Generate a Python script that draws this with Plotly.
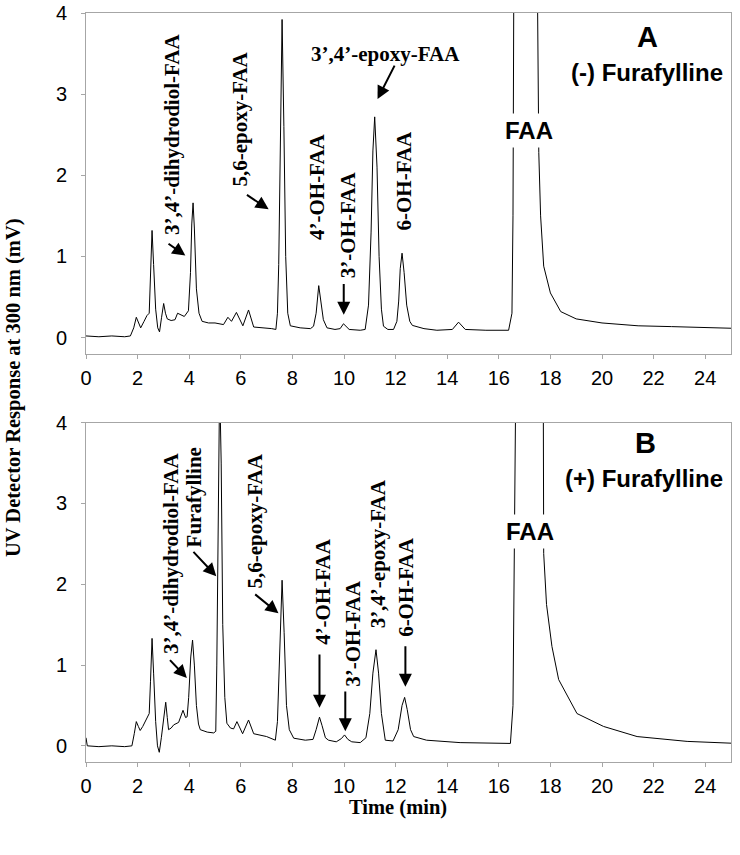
import plotly.graph_objects as go

# ---------------- data ----------------
# Panel A: (-) Furafylline
time_a = [0.0, 0.5, 1.0, 1.5, 1.72, 1.85, 1.95, 2.04, 2.12, 2.25, 2.36, 2.45, 2.5, 2.56, 2.62, 2.7, 2.78, 2.85,
          2.93, 3.01, 3.08, 3.15, 3.3, 3.45, 3.55, 3.68, 3.81, 3.97, 4.05, 4.1, 4.15, 4.2, 4.28, 4.38, 4.5,
          4.75, 5.0, 5.33, 5.5, 5.64, 5.83, 6.08, 6.3, 6.5, 6.88, 7.2, 7.36, 7.42, 7.47, 7.53, 7.6, 7.67, 7.74,
          7.82, 7.92, 8.3, 8.7, 8.82, 8.92, 9.02, 9.1, 9.2, 9.34, 9.65, 9.85, 9.98, 10.2, 10.63, 10.82, 10.95,
          11.05, 11.12, 11.19, 11.28, 11.36, 11.45, 11.53, 11.7, 11.92, 12.05, 12.12, 12.18, 12.25, 12.33,
          12.43, 12.55, 12.65, 13.1, 13.6, 14.2, 14.44, 14.7, 15.5, 16.38, 16.51, 16.55, 16.58, 16.62, 17.05,
          17.46, 17.5, 17.55, 17.62, 17.74, 18.0, 18.4, 19.0, 20.0, 21.4, 22.7, 24.0, 25.0]
resp_a = [0.02, 0.01, 0.02, 0.01, 0.02, 0.12, 0.25, 0.17, 0.12, 0.2, 0.27, 0.3, 0.7, 1.32, 0.9, 0.35, 0.12, 0.07,
          0.25, 0.42, 0.3, 0.23, 0.21, 0.22, 0.3, 0.28, 0.26, 0.33, 0.8, 1.4, 1.66, 1.35, 0.6, 0.3, 0.2,
          0.18, 0.18, 0.16, 0.25, 0.2, 0.31, 0.145, 0.34, 0.13, 0.124, 0.11, 0.1, 0.3, 0.9, 2.5, 3.92, 2.6, 1.0,
          0.3, 0.145, 0.12, 0.11, 0.14, 0.3, 0.64, 0.45, 0.22, 0.12, 0.1, 0.11, 0.17, 0.1, 0.09, 0.1, 0.4,
          1.3, 2.3, 2.72, 2.1, 1.0, 0.35, 0.14, 0.1, 0.1, 0.2, 0.45, 0.85, 1.04, 0.8,
          0.4, 0.2, 0.15, 0.11, 0.09, 0.1, 0.19, 0.1, 0.09, 0.09, 0.3, 1.5, 4.2, 10.0, 14.0,
          10.0, 4.2, 2.28, 1.5, 0.88, 0.55, 0.32, 0.23, 0.18, 0.145, 0.135, 0.12, 0.115]

# Panel B: (+) Furafylline
time_b = [0.0, 0.05, 0.5, 1.0, 1.5, 1.78, 1.87, 1.95, 2.03, 2.1, 2.2, 2.36, 2.45, 2.5, 2.56, 2.62, 2.7, 2.77,
          2.84, 2.92, 3.0, 3.09, 3.15, 3.2, 3.3, 3.4, 3.59, 3.68, 3.76, 3.86, 3.92, 3.98, 4.06, 4.13, 4.2,
          4.28, 4.36, 4.43, 4.7, 4.95, 5.03, 5.07, 5.12, 5.18, 5.24, 5.3, 5.38, 5.46, 5.6, 5.72, 5.85, 6.07,
          6.3, 6.5, 7.0, 7.34, 7.42, 7.5, 7.6, 7.68, 7.77, 7.88, 8.05, 8.5, 8.8, 8.92, 9.05, 9.15, 9.28, 9.4,
          9.7, 9.9, 10.02, 10.15, 10.3, 10.63, 10.85, 11.0, 11.12, 11.24, 11.34, 11.45, 11.6, 11.9, 12.1,
          12.25, 12.35, 12.45, 12.58, 12.7, 13.2, 14.5, 16.45, 16.55, 16.6, 16.65, 16.7, 17.2, 17.68, 17.72,
          17.74, 17.85, 18.06, 18.32, 19.03, 20.06, 21.36, 23.3, 25.0]
resp_b = [0.1, 0.0, -0.01, 0.0, -0.01, 0.0, 0.15, 0.3, 0.24, 0.19, 0.24, 0.34, 0.4, 0.8, 1.33, 0.9, 0.3, 0.0,
          -0.08, 0.1, 0.35, 0.54, 0.35, 0.2, 0.22, 0.26, 0.29, 0.38, 0.44, 0.35, 0.36, 0.6, 1.1, 1.31, 1.0,
          0.5, 0.27, 0.2, 0.17, 0.16, 0.18, 1.0, 3.0, 4.5, 3.5, 1.5, 0.6, 0.28, 0.22, 0.21, 0.3, 0.15,
          0.32, 0.15, 0.115, 0.07, 0.3, 1.2, 2.05, 1.4, 0.5, 0.2, 0.095, 0.07, 0.08, 0.2, 0.355, 0.25, 0.1, 0.07,
          0.05, 0.09, 0.135, 0.08, 0.05, 0.04, 0.1, 0.4, 0.9, 1.19, 0.9, 0.4, 0.07, 0.06, 0.2,
          0.5, 0.6, 0.45, 0.2, 0.115, 0.07, 0.04, 0.03, 0.5, 2.0, 4.2, 10.0, 14.0, 10.0, 4.2,
          2.38, 1.75, 1.23, 0.82, 0.40, 0.24, 0.115, 0.055, 0.033]

x_ticks = [0, 2, 4, 6, 8, 10, 12, 14, 16, 18, 20, 22, 24]
y_ticks = [0, 1, 2, 3, 4]

# ---------------- figure ----------------
fig = go.Figure()
fig.add_trace(go.Scatter(x=time_a, y=resp_a, mode="lines", line=dict(color="black", width=1),
                         xaxis="x", yaxis="y", showlegend=False, hoverinfo="skip"))
fig.add_trace(go.Scatter(x=time_b, y=resp_b, mode="lines", line=dict(color="black", width=1),
                         xaxis="x2", yaxis="y2", showlegend=False, hoverinfo="skip"))

TICKFONT = dict(family="Liberation Sans, Arial, sans-serif", size=20, color="black")
axis_common = dict(showgrid=False, zeroline=False, showline=True, mirror=True, linecolor="#a6a6a6",
                   linewidth=1, ticks="outside", ticklen=4, tickcolor="#a6a6a6", tickfont=TICKFONT,
                   automargin=False, ticklabeloverflow="allow")

fig.update_layout(
    width=740, height=855, margin=dict(l=86, r=9, t=13, b=93, autoexpand=False),
    paper_bgcolor="white", plot_bgcolor="white",
    xaxis=dict(domain=[0, 1], range=[0, 25], tickvals=x_ticks, anchor="y", ticklabelstandoff=2, **axis_common),
    yaxis=dict(domain=[0.545, 1.0], range=[-0.2, 4], tickvals=y_ticks, anchor="x", ticklabelstandoff=10, **axis_common),
    xaxis2=dict(domain=[0, 1], range=[0, 25], tickvals=x_ticks, anchor="y2", ticklabelstandoff=2, **axis_common),
    yaxis2=dict(domain=[0, 0.453], range=[-0.2, 4], tickvals=y_ticks, anchor="x2", ticklabelstandoff=10, **axis_common),
)

SERIF = dict(family="Liberation Serif, Times New Roman, serif", size=21, color="black", weight="bold")
SANS = dict(family="Liberation Sans, Arial, sans-serif", color="black", weight="bold")

ann = []


def label(xref, yref, x, y, text, angle=-90, font=SERIF):
    ann.append(dict(xref=xref, yref=yref, x=x, y=y, text=text, showarrow=False, textangle=angle,
                    font=font, xanchor="center", yanchor="middle"))


def arrow(xref, yref, x0, y0, x1, y1):
    ann.append(dict(xref=xref, yref=yref, axref=xref, ayref=yref, x=x1, y=y1, ax=x0, ay=y0, text="",
                    showarrow=True, arrowhead=2, arrowsize=1.3, arrowwidth=2, arrowcolor="black", standoff=0))


# Panel A labels
label("x", "y", 3.34, 2.50, "3’,4’-dihydrodiol-FAA")
label("x", "y", 5.98, 2.69, "5,6-epoxy-FAA")
label("x", "y", 8.93, 1.86, "4’-OH-FAA")
label("x", "y", 10.13, 1.39, "3’-OH-FAA")
label("x", "y", 11.59, 3.49, "3’,4’-epoxy-FAA", angle=0)
label("x", "y", 12.34, 1.94, "6-OH-FAA")
arrow("x", "y", 3.14, 1.17, 3.85, 1.01)
arrow("x", "y", 6.18, 1.77, 7.08, 1.58)
arrow("x", "y", 9.99, 0.68, 9.99, 0.28)
arrow("x", "y", 11.99, 3.37, 11.30, 2.94)
ann.append(dict(xref="x", yref="y", x=17.18, y=2.55, text="FAA", showarrow=False, bgcolor="white",
                borderpad=3, font=dict(SANS, size=24)))
label("x", "y", 21.76, 3.71, "A", angle=0, font=dict(SANS, size=29))
label("x", "y", 21.76, 3.27, "(-) Furafylline", angle=0, font=dict(SANS, size=24))

# Panel B labels
label("x2", "y2", 3.27, 2.38, "3’,4’-dihydrodiol-FAA")
label("x2", "y2", 4.20, 3.08, "Furafylline")
label("x2", "y2", 6.56, 2.78, "5,6-epoxy-FAA")
label("x2", "y2", 9.16, 1.91, "4’-OH-FAA")
label("x2", "y2", 10.32, 1.39, "3’-OH-FAA")
label("x2", "y2", 11.31, 2.38, "3’,4’-epoxy-FAA")
label("x2", "y2", 12.41, 1.97, "6-OH-FAA")
arrow("x2", "y2", 3.20, 1.08, 3.91, 0.84)
arrow("x2", "y2", 4.11, 2.42, 5.05, 2.10)
arrow("x2", "y2", 6.50, 1.89, 7.46, 1.64)
arrow("x2", "y2", 9.05, 1.15, 9.05, 0.47)
arrow("x2", "y2", 10.05, 0.69, 10.05, 0.18)
arrow("x2", "y2", 12.38, 1.25, 12.38, 0.73)
ann.append(dict(xref="x2", yref="y2", x=17.22, y=2.65, text="FAA", showarrow=False, bgcolor="white",
                borderpad=3, font=dict(SANS, size=24)))
label("x2", "y2", 21.68, 3.75, "B", angle=0, font=dict(SANS, size=29))
label("x2", "y2", 21.64, 3.31, "(+) Furafylline", angle=0, font=dict(SANS, size=24))

# Axis titles
ann.append(dict(xref="paper", yref="paper", x=-0.1124, y=0.5, text="UV Detector Response at 300 nm (mV)",
                showarrow=False, textangle=-90, font=dict(SERIF, size=20.5), xanchor="center", yanchor="middle"))
ann.append(dict(xref="paper", yref="paper", x=0.4837, y=-0.0614, text="Time (min)", showarrow=False,
                font=dict(SERIF, size=20.5), xanchor="center", yanchor="middle"))

fig.update_layout(annotations=ann)
# remove the browser's default 8 px body margin so the 740x855 figure fills the window exactly
fig.write_html("out.html", config={"displayModeBar": False},
               post_script="document.body.style.margin='0px';document.body.style.overflow='hidden';")
